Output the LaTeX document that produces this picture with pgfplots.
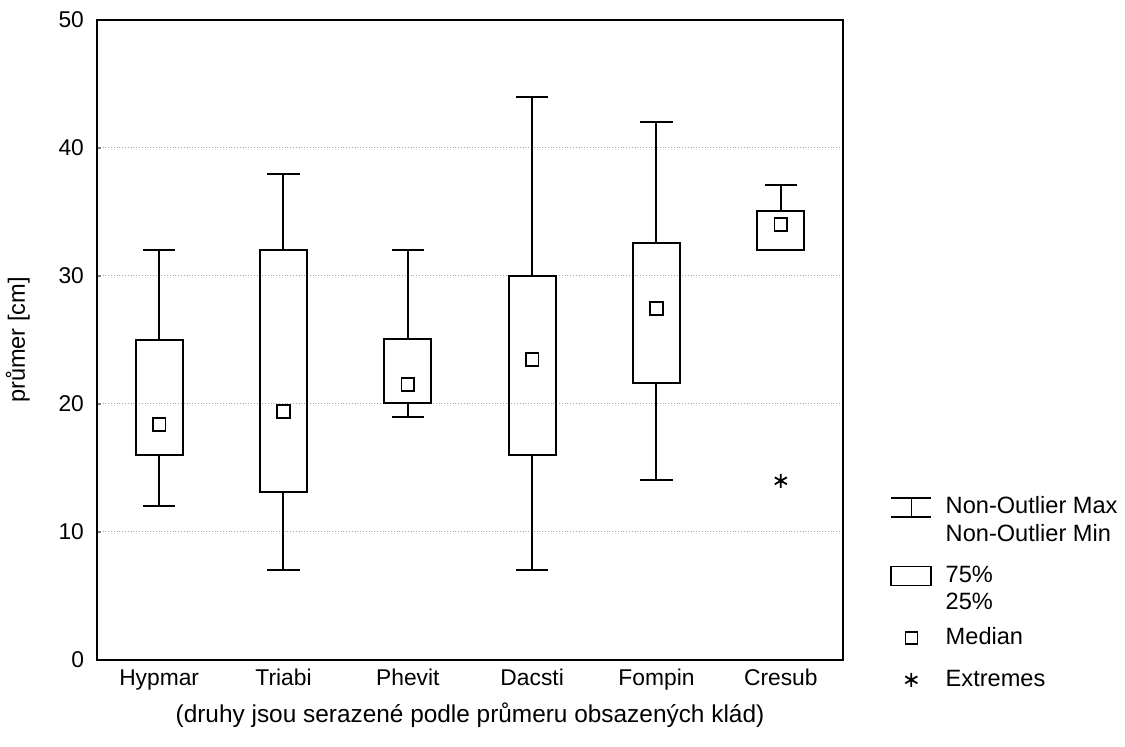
\documentclass[border=0pt]{standalone}
\usepackage{pgfplots}
\pgfplotsset{compat=1.18}
\usepgfplotslibrary{statistics}
\usepackage{fontspec}
\setmainfont{Liberation Sans}
\begin{document}
\begin{tikzpicture}
\begin{axis}[
  name=ax,
  scale only axis,
  width=373pt, height=320pt,
  xmin=-0.5, xmax=5.5, ymin=0, ymax=50,
  axis line style={line width=0.8pt},
  xtick={0,1,2,3,4,5},
  xticklabels={Hypmar,Triabi,Phevit,Dacsti,Fompin,Cresub},
  xticklabel style={anchor=base, yshift=-13pt},
  xtick style={draw=none},
  extra x ticks={0.5,1.5,2.5,3.5,4.5},
  extra x tick labels={},
  extra x tick style={major tick length=2.5pt, tick align=inside, tick style={draw=black, line width=0.6pt}},
  ytick={0,10,20,30,40,50},
  ytick pos=left,
  ytick style={line width=0.6pt},
  tick align=inside,
  major tick length=2pt,
  ymajorgrids,
  grid style={densely dotted, gray!70, line width=0.5pt},
  yticklabel style={anchor=east, xshift=-3pt},
  ticklabel style={font=\fontsize{11.4}{13}\selectfont},
  /pgf/number format/assume math mode=true,
  ylabel={průmer [cm]},
  every axis y label/.style={at={(rel axis cs:-0.106,0.5)}, rotate=90, anchor=center, font=\fontsize{11.8}{13}\selectfont},
  xlabel={(druhy jsou serazené podle průmeru obsazených klád)},
  every axis x label/.style={at={(rel axis cs:0.5,0)}, anchor=base, yshift=-31.5pt, font=\fontsize{12.2}{14}\selectfont},
  boxplot/draw direction=y,
  boxplot/box extend=0.38,
  boxplot/whisker extend=0.26,
  boxplot/every median/.style={draw=none},
  legend style={draw=none, fill=none, at={(1.055,0.262)}, anchor=north west,
    font=\fontsize{11.8}{13}\selectfont, row sep=3pt,
    nodes={text height=8.5pt, text depth=2pt, inner ysep=0pt},
    legend cell align=left},
]
\addplot[forget plot, black, line width=1pt, mark=none, boxplot prepared={draw position=0,
  lower whisker=12, lower quartile=16, median=18.4, upper quartile=25, upper whisker=32}]
  coordinates {};
\addplot[forget plot, black, line width=1pt, mark=none, boxplot prepared={draw position=1,
  lower whisker=7, lower quartile=13.1, median=19.4, upper quartile=32, upper whisker=38}]
  coordinates {};
\addplot[forget plot, black, line width=1pt, mark=none, boxplot prepared={draw position=2,
  lower whisker=19, lower quartile=20.1, median=21.5, upper quartile=25.05, upper whisker=32}]
  coordinates {};
\addplot[forget plot, black, line width=1pt, mark=none, boxplot prepared={draw position=3,
  lower whisker=7.05, lower quartile=16.05, median=23.46, upper quartile=30, upper whisker=44}]
  coordinates {};
\addplot[forget plot, black, line width=1pt, mark=none, boxplot prepared={draw position=4,
  lower whisker=14.1, lower quartile=21.64, median=27.46, upper quartile=32.55, upper whisker=42}]
  coordinates {};
\addplot[forget plot, black, line width=1pt, mark=none, boxplot prepared={draw position=5,
  lower whisker=32, lower quartile=32, median=34, upper quartile=35.05, upper whisker=37.1}]
  coordinates {};
% medians
\addplot[forget plot, only marks, mark=square, mark size=3.2pt, line width=0.9pt, black]
  coordinates {(0,18.4) (1,19.4) (2,21.5) (3,23.46) (4,27.46) (5,34)};
% extremes
\addplot[forget plot, only marks, mark=asterisk, mark size=3.5pt, line width=0.9pt, black]
  coordinates {(5,14)};
% legend
\addlegendimage{legend image code/.code={
  \draw[line width=0.8pt] (0pt,4.5pt) -- (20pt,4.5pt);
  \draw[line width=0.8pt] (10pt,4.5pt) -- (10pt,-5pt);
  \draw[line width=0.8pt] (0pt,-5pt) -- (20pt,-5pt);
  \path (25pt,0pt);}}
\addlegendentry{Non-Outlier Max}
\addlegendimage{legend image code/.code={}}
\addlegendentry{Non-Outlier Min}
\addlegendimage{legend image code/.code={
  \draw[line width=0.9pt] (0pt,-4.5pt) rectangle (20pt,5pt);
  \path (0pt,12.5pt);}}
\addlegendentry{75\%}
\addlegendimage{legend image code/.code={}}
\addlegendentry{25\%}
\addlegendimage{legend image code/.code={
  \draw[line width=0.8pt] (7pt,-3pt) rectangle (13pt,3pt);
  \path (0pt,8.8pt);}}
\addlegendentry{Median}
\addlegendimage{legend image code/.code={
  \path[draw, line width=0.9pt] plot[mark=asterisk, mark size=3.5pt] coordinates {(10pt,0pt)};
  \path (0pt,12.5pt);}}
\addlegendentry{Extremes}
\end{axis}
\pgfresetboundingbox
\path[use as bounding box] ([shift={(-48.5pt,-43.5pt)}]ax.south west) rectangle ([shift={(514pt,330pt)}]ax.south west);
\end{tikzpicture}
\end{document}
